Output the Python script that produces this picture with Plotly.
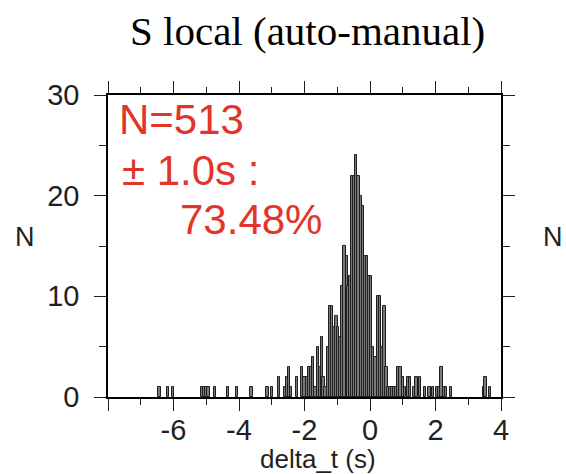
import plotly.graph_objects as go

# ---------------------------------------------------------------------------
# Data (bin centre in s, count)
# ---------------------------------------------------------------------------

bin_centers = [
    -6.43, -6.17, -6.02, -5.14, -5.07, -5.00, -4.93, -4.73, -4.33, -4.07, -3.62,
    -3.13, -2.99, -2.78, -2.58, -2.52, -2.47, -2.41, -2.23, -2.07, -2.00, -1.93,
    -1.87, -1.81, -1.74, -1.66, -1.58, -1.53, -1.47, -1.42, -1.36, -1.27, -1.22,
    -1.15, -1.09, -1.02, -0.97, -0.90, -0.845, -0.78, -0.71, -0.66, -0.60,
    -0.55, -0.49, -0.42, -0.35, -0.28, -0.21, -0.15, -0.09, -0.03, 0.04, 0.10,
    0.17, 0.24, 0.31, 0.38, 0.44, 0.50, 0.56, 0.62, 0.68, 0.74, 0.80, 0.86, 0.93,
    1.00, 1.07, 1.17, 1.23, 1.34, 1.42, 1.53, 1.68, 1.82, 1.92, 2.05, 2.12, 2.18,
    2.25, 2.33, 2.48, 3.48, 3.53, 3.67,
]
bin_counts = [
    1, 1, 1, 1, 1, 1, 1, 1, 1, 1, 1,
    1, 1, 2, 1, 2, 3, 1, 2, 3, 2, 2,
    3, 3, 4, 1, 5, 3, 6, 2, 1, 5, 9,
    9, 7, 8, 7, 6, 11, 15, 14, 11, 12,
    22, 22, 24, 22, 20, 19, 14, 14, 12, 12, 5,
    4, 10, 10, 5, 9, 3, 1, 1, 1, 1, 1, 3, 3,
    2, 1, 2, 2, 1, 2, 2, 1, 1, 1, 1, 1, 3,
    1, 1, 1, 1, 2, 1,
]

x_tickvals = [-8, -6, -4, -2, 0, 2, 4]
x_ticktext = ["", "-6", "-4", "-2", "0", "2", "4"]
y_tickvals = [0, 10, 20, 30]

title_text = "S local (auto-manual)"
stats_lines = ["N=513", "± 1.0s :", "73.48%"]

RED = "#e3342a"
INK = "#231f20"
SANS = "Liberation Sans, Arial, sans-serif"


fig = go.Figure(
    go.Bar(
        x=bin_centers,
        y=bin_counts,
        width=0.07,
        marker=dict(color="#7a7a7a", line=dict(color="#1e1e1e", width=1)),
        showlegend=False,
        hoverinfo="x+y",
    )
)

axis_common = dict(
    showline=True, linecolor="black", linewidth=1.5,
    ticks="outside", tickcolor=INK, tickwidth=1, ticklen=12,
    mirror="ticks", showgrid=False, zeroline=False,
    tickfont=dict(family=SANS, size=29, color=INK),
)

fig.update_layout(
    width=566, height=474,
    margin=dict(l=108, r=65, t=95, b=77),
    plot_bgcolor="white", paper_bgcolor="white",
    bargap=0,
    xaxis=dict(
        range=[-8, 4], tickmode="array", tickvals=x_tickvals, ticktext=x_ticktext,
        minor=dict(dtick=1, tick0=-8, ticks="outside", ticklen=6, tickcolor=INK),
        ticklabelstandoff=-6,
        **axis_common,
    ),
    yaxis=dict(
        range=[0, 30], tickmode="array", tickvals=y_tickvals,
        minor=dict(dtick=5, tick0=0, ticks="outside", ticklen=7, tickcolor=INK),
        ticklabelstandoff=9,
        **axis_common,
    ),
)

annotations = [
    dict(text=title_text, xref="paper", yref="paper", x=0.508, y=1.212,
         xanchor="center", yanchor="middle", showarrow=False,
         font=dict(family="Liberation Serif, Times New Roman, serif", size=41, color="black")),
    dict(text="N", xref="paper", yref="paper", x=-0.21, y=0.53,
         xanchor="center", yanchor="middle", showarrow=False,
         font=dict(family=SANS, size=27, color=INK)),
    dict(text="N", xref="paper", yref="paper", x=1.132, y=0.53,
         xanchor="center", yanchor="middle", showarrow=False,
         font=dict(family=SANS, size=27, color=INK)),
    dict(text="delta_t (s)", xref="paper", yref="paper", x=0.534, y=-0.205,
         xanchor="center", yanchor="middle", showarrow=False,
         font=dict(family=SANS, size=26, color=INK)),
]

stats_pos = [(-7.73, 27.6), (-7.64, 22.5), (-5.87, 17.65)]
for line, (sx, sy) in zip(stats_lines, stats_pos):
    annotations.append(dict(
        text=line, x=sx, y=sy, xref="x", yref="y",
        xanchor="left", yanchor="middle", showarrow=False,
        font=dict(family=SANS, size=42, color=RED),
    ))

fig.update_layout(annotations=annotations)

# page body has a default 8px margin; drop it so the figure fills the window
fig.write_html(
    "out.html",
    config={"displayModeBar": False},
    post_script="document.body.style.margin='0';",
)
